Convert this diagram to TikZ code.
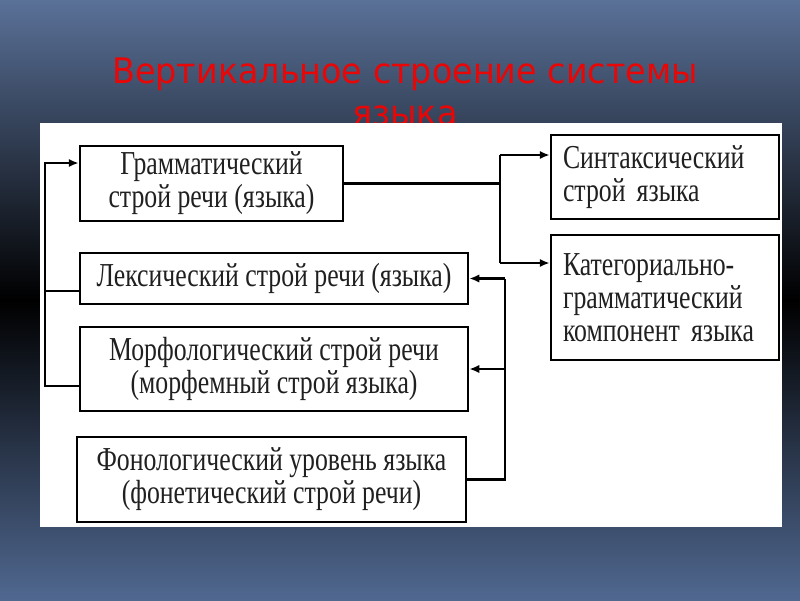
\documentclass[tikz,border=0pt]{standalone}
\usepackage{fontspec}
\setmainfont{Liberation Serif}
\newfontfamily\blokfont[FakeStretch=0.77]{Liberation Serif}
\newfontfamily\titlefont[FakeStretch=0.95]{DejaVu Sans}
\usepackage{xcolor}
\usetikzlibrary{calc,arrows.meta}
\definecolor{fonverh}{RGB}{90,113,152}
\definecolor{fonniz}{RGB}{80,104,144}
\definecolor{krasny}{RGB}{232,6,6}
\definecolor{tekst}{RGB}{32,32,32}
\newcommand\px{0.025cm}

\begin{document}
\begin{tikzpicture}[x=0.025cm,y=-0.025cm,
 blok/.style={draw,line width=2pt,fill=white,text=tekst,inner sep=0pt,align=center,
  font=\blokfont\fontsize{23.8}{23.5}\selectfont},
 blokL/.style={blok,align=left,inner xsep=12*\px,text width=204*\px},
 titul/.style={text=krasny,inner sep=0pt,anchor=base,font=\titlefont\fontsize{25}{30}\selectfont},
 svyaz/.style={line width=1.8pt},
 strelka/.style={svyaz,-{Latex[length=7pt,width=6pt]}}]
\useasboundingbox(0,0)rectangle(800,600);
\shade[top color=fonverh,bottom color=fonniz,middle color=black](0,0)rectangle(800,600);
% zagolovok
\node[titul](t1)at(405,83){Вертикальное строение системы};
\node[titul](t2)at(405,125){языка};
\fill[white](40,123)rectangle(782,527);
% bloki sleva
\node[blok,minimum width=263*\px,minimum height=75*\px](gram)at(211.5,183.5){Грамматический\\строй речи (языка)};
\node[blok,minimum width=388*\px,minimum height=51*\px](lex)at(274,278.5){Лексический строй речи (языка)};
\node[blok,minimum width=388*\px,minimum height=84*\px](morf)at(274,369){Морфологический строй речи\\(морфемный строй языка)};
\node[blok,minimum width=389*\px,minimum height=85*\px](fon)at(271.5,479.5){Фонологический уровень языка\\(фонетический строй речи)};
% bloki sprava
\node[blokL,minimum height=84*\px](sint)at(665,177){Синтаксический\\строй языка};
\node[blokL,minimum height=125*\px](kat)at(665,297.5){Категориально-\\грамматический\\компонент языка};
% razvilka sprava
\coordinate(vilkaV)at(500,155);\coordinate(vilkaN)at(500,263);
\draw[svyaz](gram.east)--(gram.east-|vilkaV);
\draw[svyaz](vilkaV)--(vilkaN);
\draw[strelka](vilkaV)--(vilkaV-|sint.west);
\draw[strelka](vilkaN)--(vilkaN-|kat.west);
% shina sprava
\coordinate(shinaP)at(505,0);
\draw[svyaz](fon.east)-|(lex.east-|shinaP);
\draw[strelka](lex.east-|shinaP)--(lex.east);
\draw[strelka](morf.east-|shinaP)--(morf.east);
% shina sleva
\coordinate(shinaL1)at(45,163);\coordinate(shinaL2)at(45,291);\coordinate(shinaL3)at(45,386);
\draw[strelka](shinaL3-|morf.west)--(shinaL3)--(shinaL1)--(shinaL1-|gram.west);
\draw[svyaz](shinaL2)--(shinaL2-|lex.west);
\end{tikzpicture}
\end{document}
